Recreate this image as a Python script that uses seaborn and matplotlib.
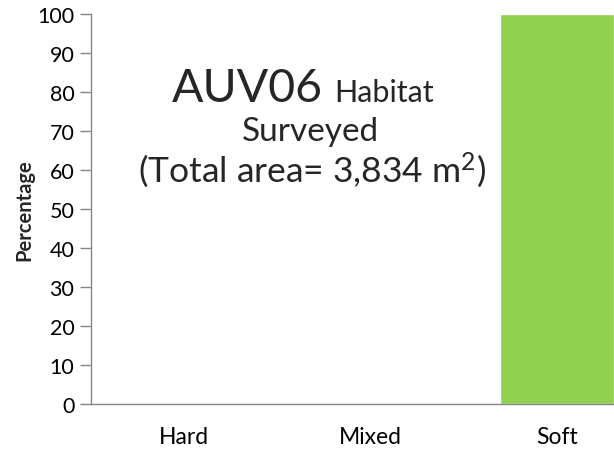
import matplotlib
matplotlib.use("Agg")
import matplotlib.pyplot as plt
import seaborn as sns
import pandas as pd

# habitat categories and share of area surveyed (%)
habitats = ["Hard", "Mixed", "Soft"]
percentages = [0, 0, 100]
y_ticks = list(range(0, 101, 10))

sns.set_style("white")
plt.rcParams["font.family"] = ["Lato", "DejaVu Sans"]
plt.rcParams["mathtext.default"] = "regular"

df = pd.DataFrame({"habitat": habitats, "pct": percentages})

W, H = 614, 452
fig = plt.figure(figsize=(W / 100, H / 100), dpi=100)
# axes runs past the right edge, as in the cropped original
ax = fig.add_axes([91 / W, (H - 405) / H, (650 - 91) / W, (405 - 15) / H])

sns.barplot(data=df, x="habitat", y="pct", color="#92D050", width=0.61,
            saturation=1, ax=ax)

axis_grey = "#868686"
ax.set_ylim(0, 100)
ax.set_xlim(-0.5, 2.5)
ax.set_yticks(y_ticks)
ax.set_xticks(range(len(habitats)))
ax.set_xticklabels(habitats)
ax.set_xticks([-0.5, 0.5, 1.5, 2.5], minor=True)
ax.tick_params(axis="x", which="major", length=0, pad=16, labelsize=16.5, colors="black")
ax.tick_params(axis="x", which="minor", length=8, width=1, color=axis_grey, direction="out")
ax.tick_params(axis="y", length=8, width=1, color=axis_grey, labelsize=15.5,
               labelcolor="black", direction="out", left=True, pad=4)
for side in ["top", "right"]:
    ax.spines[side].set_visible(False)
for side in ["left", "bottom"]:
    ax.spines[side].set_color(axis_grey)
    ax.spines[side].set_linewidth(1)

ax.set_xlabel("")
ax.set_ylabel("Percentage", fontsize=14.5, fontweight="bold", labelpad=2)

def fx(px):
    return px / W

def fy(py):
    return 1 - py / H

fig.text(fx(323), fy(102), "AUV06", fontsize=33.5, ha="right", va="baseline")
fig.text(fx(334), fy(102), "Habitat", fontsize=22, ha="left", va="baseline")
fig.text(fx(310), fy(141), "Surveyed", fontsize=24, ha="center", va="baseline")
fig.text(fx(312), fy(182), "(Total area= 3,834 m$^{2}$)", fontsize=25.5,
         ha="center", va="baseline")

fig.savefig("out.png", dpi=100)
